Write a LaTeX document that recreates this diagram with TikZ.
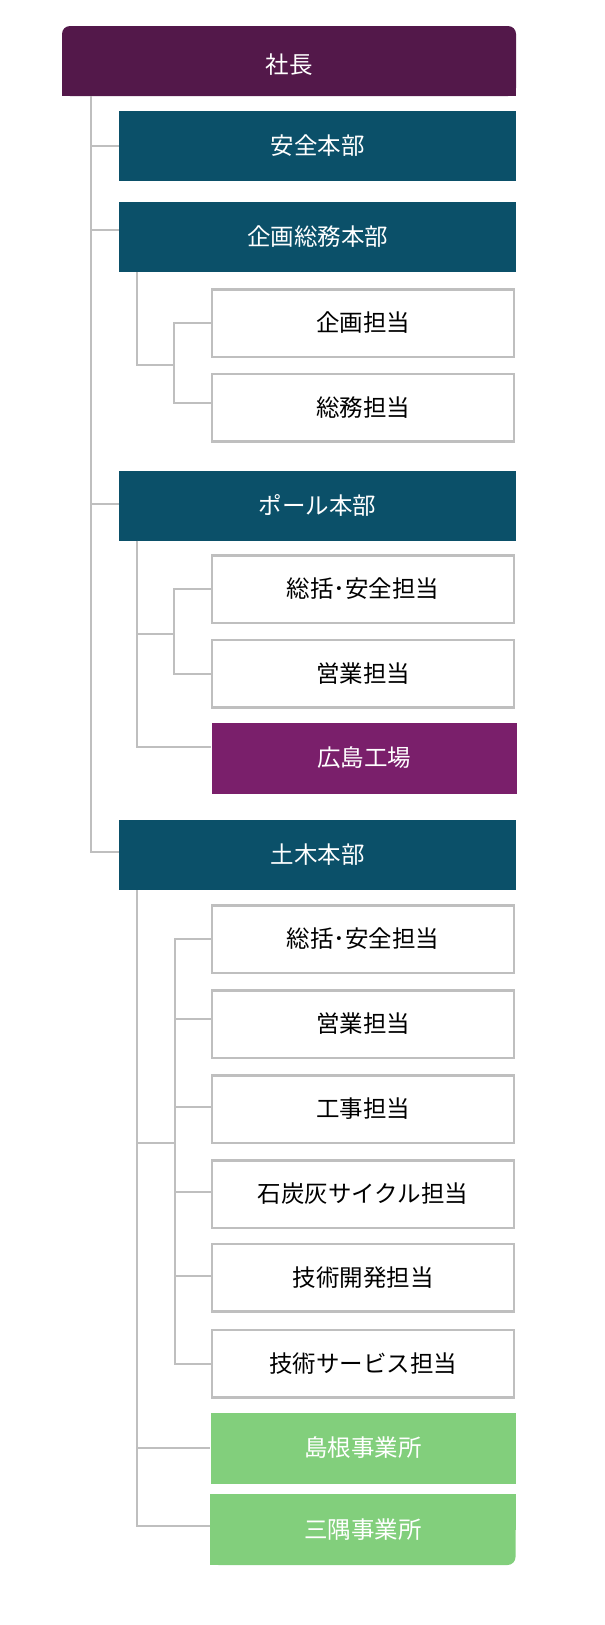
\documentclass[tikz,border=0pt]{standalone}
\usepackage{fontspec}
\setmainfont{Noto Sans CJK JP}
\usetikzlibrary{backgrounds}
\definecolor{presc}{HTML}{53184A}
\definecolor{tealc}{HTML}{0B5069}
\definecolor{hiroc}{HTML}{7A1F6B}
\definecolor{greenc}{HTML}{82CF7C}
\definecolor{linec}{HTML}{BFBFBF}
\begin{document}
\begin{tikzpicture}[x=1pt,y=-1pt,
  conn/.style={draw=linec, line width=2pt},
  lbl/.style={inner sep=0pt, font=\fontsize{23.5}{23.5}\selectfont},
  presbox/.style={lbl, fill=presc, text=white, minimum width=454pt, minimum height=70pt, rounded corners=8pt},
  dept/.style={lbl, fill=tealc, text=white, minimum width=397pt, minimum height=70pt},
  subbox/.style={lbl, draw=linec, line width=2.5pt, fill=white, text=black, minimum width=302pt, minimum height=67.5pt},
  subfill/.style={lbl, text=white, minimum width=305pt, minimum height=71pt}]
\useasboundingbox (0,0) rectangle (605,1625);

% top
\node[presbox] (pres) at (289,61) {\raisebox{-4pt}[\height][\depth]{社長}};
\begin{scope}[on background layer]
  \fill[presc] (pres.west) rectangle (pres.south east);
\end{scope}

% departments
\node[dept] (anzen) at (317.5,146) {安全本部};
\node[dept] (kikaku) at (317.5,237) {企画総務本部};
\node[dept] (pole) at (317.5,505.5) {ポール本部};
\node[dept] (doboku) at (317.5,855) {土木本部};

% kikaku subs
\node[subbox] (kp) at (363,323) {企画担当};
\node[subbox] (ks) at (363,407.5) {総務担当};

% pole subs
\node[subbox] (ps) at (363,589) {総括･安全担当};
\node[subbox] (pe) at (363,673.5) {営業担当};
\node[subfill, fill=hiroc] (hiro) at (364,758) {広島工場};

% doboku subs
\node[subbox] (ds) at (363,939) {総括･安全担当};
\node[subbox] (de) at (363,1024) {営業担当};
\node[subbox] (dk) at (363,1109) {工事担当};
\node[subbox] (dc) at (363,1194) {石炭灰サイクル担当};
\node[subbox] (dg) at (363,1277.5) {技術開発担当};
\node[subbox] (dv) at (363,1363.5) {技術サービス担当};
\node[subfill, fill=greenc] (shimane) at (363,1448) {島根事業所};
\node[subfill, fill=greenc, rounded corners=8pt] (misumi) at (363,1529.5) {三隅事業所};
\begin{scope}[on background layer]
  \fill[greenc] (misumi.north west) rectangle (misumi.south);
  \fill[greenc] (misumi.north west) rectangle (misumi.east);
\end{scope}

% main trunk
\coordinate (trunk) at ([xshift=29pt]pres.south west);
\draw[conn] (trunk) |- ([yshift=3pt]doboku.west);
\draw[conn] (trunk) |- (anzen.west);
\draw[conn] (trunk) |- ([yshift=7pt]kikaku.west);
\draw[conn] (trunk) |- ([yshift=1.5pt]pole.west);

% kikaku branch
\coordinate (kj) at (174,365);
\draw[conn] ([xshift=18pt]kikaku.south west) |- (kj);
\draw[conn] (kj) |- (kp.west);
\draw[conn] (kj) |- ([yshift=5pt]ks.west);

% pole branch
\coordinate (pi) at (137,634);
\coordinate (pj) at (174,634);
\draw[conn] ([xshift=18pt]pole.south west) |- ([yshift=11pt]hiro.west);
\draw[conn] (pi) -- (pj);
\draw[conn] (pj) |- (ps.west);
\draw[conn] (pj) |- (pe.west);

% doboku branch
\coordinate (di) at (137,1143);
\coordinate (dj) at (175,1143);
\draw[conn] ([xshift=18pt]doboku.south west) |- ([yshift=3.5pt]misumi.west);
\draw[conn] ([xshift=18pt]doboku.south west) |- (shimane.west);
\draw[conn] (di) -- (dj);
\draw[conn] (dj) |- (ds.west);
\draw[conn] (dj) |- ([yshift=5pt]de.west);
\draw[conn] (dj) |- ([yshift=2pt]dk.west);
\draw[conn] (dj) |- ([yshift=2pt]dc.west);
\draw[conn] (dj) |- ([yshift=1.5pt]dg.west);
\draw[conn] (dj) |- (dv.west);
\end{tikzpicture}
\end{document}
